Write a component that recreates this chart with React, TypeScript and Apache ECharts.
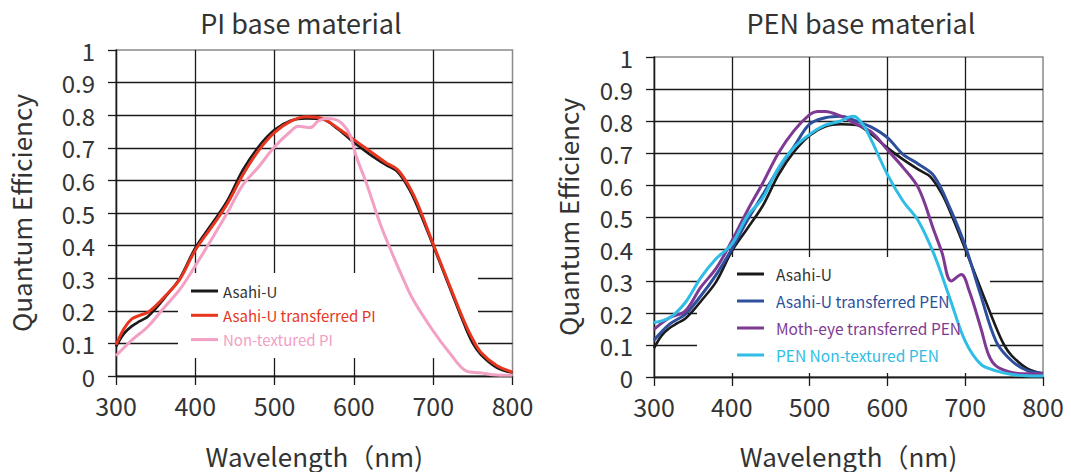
import React, { useEffect, useRef } from "react";
import * as echarts from "echarts";

// ---- Data (wavelength in nm, quantum efficiency) ----
const asahiWl = [300, 310, 320, 330, 340, 350, 360, 380, 400, 420, 440, 460, 480, 500, 520, 540, 560, 580, 600, 620, 640, 655, 670, 680, 700, 720, 740, 750, 760, 780, 800];
const asahiQE = [0.09, 0.13, 0.153, 0.168, 0.182, 0.207, 0.236, 0.298, 0.393, 0.464, 0.536, 0.632, 0.704, 0.755, 0.783, 0.79, 0.788, 0.757, 0.716, 0.68, 0.648, 0.626, 0.572, 0.52, 0.4, 0.276, 0.153, 0.1, 0.066, 0.026, 0.01];

const transPIWl = asahiWl;
const transPIQE = [0.095, 0.145, 0.175, 0.186, 0.195, 0.215, 0.24, 0.295, 0.386, 0.455, 0.527, 0.617, 0.692, 0.747, 0.781, 0.795, 0.79, 0.76, 0.725, 0.69, 0.655, 0.633, 0.58, 0.53, 0.405, 0.282, 0.162, 0.112, 0.073, 0.032, 0.012];

const nonPIWl = [300, 320, 340, 360, 380, 400, 420, 440, 460, 480, 500, 520, 530, 545, 555, 565, 575, 585, 595, 603, 616, 633, 650, 660, 675, 700, 721, 742, 759, 780, 800];
const nonPIQE = [0.062, 0.11, 0.151, 0.208, 0.264, 0.338, 0.417, 0.499, 0.586, 0.642, 0.703, 0.75, 0.766, 0.762, 0.782, 0.79, 0.788, 0.775, 0.74, 0.673, 0.59, 0.468, 0.366, 0.31, 0.233, 0.138, 0.07, 0.015, 0.01, 0.003, 0.002];

const transPENWl = [300, 320, 340, 360, 380, 400, 420, 440, 460, 480, 500, 520, 540, 560, 580, 600, 620, 640, 660, 680, 700, 720, 740, 760, 780, 800];
const transPENQE = [0.115, 0.165, 0.196, 0.253, 0.32, 0.4, 0.49, 0.57, 0.65, 0.72, 0.79, 0.81, 0.815, 0.8, 0.78, 0.748, 0.696, 0.665, 0.628, 0.53, 0.41, 0.255, 0.11, 0.05, 0.02, 0.012];

const mothWl = [300, 320, 340, 360, 380, 400, 420, 440, 460, 480, 500, 510, 520, 540, 560, 580, 600, 620, 640, 660, 670, 682, 695, 705, 720, 730, 740, 760, 780, 800];
const mothQE = [0.149, 0.185, 0.206, 0.28, 0.34, 0.425, 0.52, 0.607, 0.7, 0.77, 0.82, 0.83, 0.83, 0.815, 0.79, 0.764, 0.71, 0.655, 0.59, 0.456, 0.39, 0.3, 0.32, 0.27, 0.154, 0.07, 0.034, 0.014, 0.01, 0.01];

const nonPENWl = [300, 320, 340, 360, 380, 400, 420, 440, 460, 480, 500, 520, 540, 555, 560, 570, 580, 600, 620, 640, 660, 680, 700, 720, 740, 760, 780, 800];
const nonPENQE = [0.17, 0.185, 0.232, 0.31, 0.37, 0.415, 0.503, 0.56, 0.654, 0.717, 0.758, 0.787, 0.8, 0.815, 0.812, 0.784, 0.737, 0.633, 0.55, 0.487, 0.383, 0.248, 0.112, 0.04, 0.019, 0.008, 0.004, 0.003];

const titles = ["PI base material", "PEN base material"];
const xName = "Wavelength（nm)";
const yName = "Quantum Efficiency";
const leftLegend = ["Asahi-U", "Asahi-U transferred PI", "Non-textured PI"];
const rightLegend = ["Asahi-U", "Asahi-U transferred PEN", "Moth-eye transferred PEN", "PEN Non-textured PEN"];

const FONT = "'Noto Sans CJK JP', 'Noto Sans', sans-serif";

const COLORS: Record<string, string> = {
  "Asahi-U": "#1a1a1a",
  "Asahi-U transferred PI": "#e8351f",
  "Non-textured PI": "#f2a0c4",
  "Asahi-U transferred PEN": "#2d4f9c",
  "Moth-eye transferred PEN": "#7e3a93",
  "PEN Non-textured PEN": "#2fbde6",
};
const TEXT_COLORS: Record<string, string> = {
  "Asahi-U": "#333333",
  "Asahi-U transferred PI": "#e8351f",
  "Non-textured PI": "#f2a0c4",
  "Asahi-U transferred PEN": "#2d4f9c",
  "Moth-eye transferred PEN": "#7e3a93",
  "PEN Non-textured PEN": "#2fbde6",
};

const pairs = (xs: number[], ys: number[]) => xs.map((x, i) => [x, ys[i]]);

function makeX(gridIndex: number, nameGap: number) {
  return {
    type: "value",
    gridIndex,
    min: 300,
    max: 800,
    interval: 100,
    name: xName,
    nameLocation: "middle",
    nameGap,
    nameTextStyle: { fontFamily: FONT, fontSize: 26, color: "#333", lineHeight: 26 },
    axisLine: { show: true, lineStyle: { color: "#1a1a1a", width: 1.3 } },
    axisTick: { show: true, length: 9, lineStyle: { color: "#1a1a1a", width: 1.3 } },
    axisLabel: { fontFamily: FONT, fontSize: 25, color: "#333", margin: 16 },
    splitLine: { show: true, showMaxLine: false, lineStyle: { color: "#1a1a1a", width: 1.3 } },
  };
}

function makeY(gridIndex: number, nameGap: number) {
  return {
    type: "value",
    gridIndex,
    min: 0,
    max: 1,
    interval: 0.1,
    name: yName,
    nameLocation: "middle",
    nameGap,
    nameTextStyle: { fontFamily: FONT, fontSize: 26, color: "#333", lineHeight: 26 },
    axisLine: { show: true, lineStyle: { color: "#1a1a1a", width: 1.3 } },
    axisTick: { show: true, length: 8, lineStyle: { color: "#1a1a1a", width: 1.3 } },
    axisLabel: {
      fontFamily: FONT,
      fontSize: 24,
      color: "#333",
      margin: 21,
      formatter: (v: number) => String(Math.round(v * 10) / 10),
    },
    splitLine: { show: true, showMaxLine: false, lineStyle: { color: "#1a1a1a", width: 1.3 } },
  };
}

function makeSeries(name: string, xs: number[], ys: number[], idx: number, width = 3) {
  return {
    type: "line",
    name,
    xAxisIndex: idx,
    yAxisIndex: idx,
    data: pairs(xs, ys),
    smooth: 0.35,
    showSymbol: false,
    symbol: "none",
    lineStyle: { color: COLORS[name], width },
    itemStyle: { color: COLORS[name] },
    z: 3,
  };
}

function makeLegend(names: string[], left: number, top: number, itemGap: number, textPad: number, fontSize: number) {
  return {
    orient: "vertical",
    left,
    top,
    itemGap,
    itemWidth: 27,
    itemHeight: 3,
    icon: "rect",
    padding: 0,
    selectedMode: false,
    z: 4,
    data: names.map((n) => ({
      name: n,
      itemStyle: { color: COLORS[n] },
      textStyle: { color: TEXT_COLORS[n], fontFamily: FONT, fontSize, lineHeight: 16, padding: [0, 0, 0, textPad] },
    })),
  };
}

export default function App() {
  const ref = useRef<HTMLDivElement>(null);
  useEffect(() => {
    if (!ref.current) return;
    const chart = echarts.init(ref.current, undefined, { renderer: "svg" });
    chart.setOption({
      animation: false,
      backgroundColor: "#ffffff",
      title: [
        { text: titles[0], left: 296, top: 4, textAlign: "center", textStyle: { fontFamily: FONT, fontSize: 27, fontWeight: "normal", color: "#333" } },
        { text: titles[1], left: 856, top: 4, textAlign: "center", textStyle: { fontFamily: FONT, fontSize: 27, fontWeight: "normal", color: "#333" } },
      ],
      grid: [
        { left: 116, top: 50, width: 396.5, height: 326, show: true, borderColor: "#8a8a8a", borderWidth: 1.5, backgroundColor: "transparent", outerBoundsMode: "none", containLabel: false },
        { left: 654, top: 57, width: 389, height: 320, show: true, borderColor: "#8a8a8a", borderWidth: 1.5, backgroundColor: "transparent", outerBoundsMode: "none", containLabel: false },
      ],
      xAxis: [makeX(0, 66), makeX(1, 65)],
      yAxis: [makeY(0, 83), makeY(1, 74)],
      legend: [makeLegend(leftLegend, 191, 283, 8.3, 0, 15), makeLegend(rightLegend, 737, 266, 11, 7, 15.5)],
      graphic: [
        { type: "rect", z: 1, shape: { x: 178, y: 273, width: 300, height: 85 }, style: { fill: "#ffffff" }, silent: true },
        { type: "rect", z: 1, shape: { x: 697, y: 257, width: 293, height: 116 }, style: { fill: "#ffffff" }, silent: true },
      ],
      series: [
        makeSeries("Asahi-U", asahiWl, asahiQE, 0, 2.6),
        makeSeries("Asahi-U transferred PI", transPIWl, transPIQE, 0),
        makeSeries("Non-textured PI", nonPIWl, nonPIQE, 0),
        makeSeries("Asahi-U", asahiWl, asahiQE, 1, 2.6),
        makeSeries("Asahi-U transferred PEN", transPENWl, transPENQE, 1),
        makeSeries("Moth-eye transferred PEN", mothWl, mothQE, 1),
        makeSeries("PEN Non-textured PEN", nonPENWl, nonPENQE, 1),
      ],
    });
    return () => chart.dispose();
  }, []);
  return <div ref={ref} style={{ position: "fixed", left: 0, top: 0, width: 1071, height: 472 }} />;
}
